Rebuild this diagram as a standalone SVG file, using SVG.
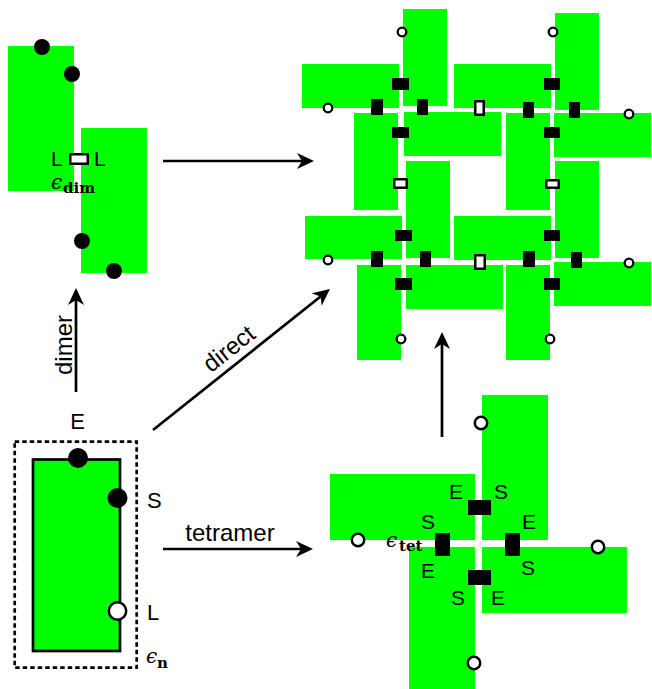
<svg xmlns="http://www.w3.org/2000/svg" width="652" height="689" viewBox="0 0 652 689">
<style>
.g{fill:#00ff00}
.k{fill:#000}
.w{fill:#fff;stroke:#000;stroke-width:2.5}
.oc{fill:#fff;stroke:#000;stroke-width:2.3}
.lab{font-family:"Liberation Sans",Arial,sans-serif;font-size:22px;fill:#000}
.tl{font-family:"Liberation Sans",Arial,sans-serif;font-size:21px;fill:#000}
.arl{font-family:"Liberation Sans",Arial,sans-serif;font-size:24px;fill:#000}
.eps{font-family:"DejaVu Serif",serif;font-style:italic;font-size:20px;fill:#000}
.sub{font-family:"DejaVu Serif",serif;font-weight:bold;font-size:15px;fill:#000}
.arrow{stroke:#000;stroke-width:2.7;fill:none;marker-end:url(#ah)}
</style>
<defs>
<marker id="ah" markerUnits="userSpaceOnUse" viewBox="0 -8 17 16" markerWidth="17" markerHeight="16" refX="5" refY="0" orient="auto">
<path d="M0,-8 L17,0 L0,8 L5,0 Z" fill="#000"/>
</marker>
</defs>
<rect width="652" height="689" fill="#fff"/>

<g id="dimer">
<rect class="g" x="8" y="46" width="66" height="145"/>
<rect class="g" x="81" y="128" width="66" height="145"/>
<circle class="k" cx="42" cy="47" r="8"/>
<circle class="k" cx="72" cy="74" r="8"/>
<circle class="k" cx="82" cy="241" r="8"/>
<circle class="k" cx="114" cy="271" r="8"/>
<rect class="w" x="70.25" y="154.25" width="17.5" height="9.5"/>
<text class="tl" x="51" y="166">L</text>
<text class="tl" x="94" y="166">L</text>
<text class="eps" x="51" y="189">ϵ</text>
<text class="sub" x="63" y="193">dim</text>
</g>

<g id="monomer">
<rect x="14.7" y="441.7" width="122" height="226" fill="none" stroke="#000" stroke-width="2.7" stroke-dasharray="4.5 3"/>
<rect x="33" y="459.5" width="87" height="191.5" fill="#00ff00" stroke="#000" stroke-width="2.7"/>
<circle class="k" cx="78" cy="458" r="10"/>
<circle class="k" cx="117.5" cy="498" r="10"/>
<circle cx="117.5" cy="611" r="8.7" fill="#fff" stroke="#000" stroke-width="2.5"/>
<text class="lab" x="77.5" y="429" text-anchor="middle">E</text>
<text class="lab" x="147" y="508">S</text>
<text class="lab" x="147" y="620">L</text>
<text class="eps" x="146" y="663">ϵ</text>
<text class="sub" x="157" y="668">n</text>
</g>

<g id="lattice">
<g id="pinwheel-tl">
<rect class="g" x="403" y="9" width="44" height="97"/>
<rect class="g" x="302" y="64" width="97" height="44"/>
<rect class="g" x="354" y="113" width="44" height="97"/>
<rect class="g" x="404" y="112" width="97" height="44"/>
<rect class="k" x="392" y="78" width="17" height="12"/>
<rect class="k" x="371" y="99" width="12" height="16"/>
<rect class="k" x="417" y="99" width="11" height="16"/>
<rect class="k" x="392" y="127" width="17" height="11"/>
<circle class="oc" cx="402" cy="32" r="4.3"/>
<circle class="oc" cx="328" cy="108" r="4.3"/>
</g>
<g id="pinwheel-tr">
<rect class="g" x="555" y="13" width="44" height="97"/>
<rect class="g" x="454" y="64" width="97" height="44"/>
<rect class="g" x="554" y="113" width="97" height="44"/>
<rect class="g" x="506" y="113" width="44" height="97"/>
<rect class="k" x="544" y="78" width="16" height="12"/>
<rect class="k" x="523" y="102" width="11" height="16"/>
<rect class="k" x="569" y="102" width="11" height="16"/>
<rect class="k" x="544" y="127" width="16" height="11"/>
<circle class="oc" cx="553" cy="32" r="4.3"/>
<circle class="oc" cx="629" cy="114" r="4.3"/>
</g>
<g id="pinwheel-bl">
<rect class="g" x="406" y="161" width="44" height="97"/>
<rect class="g" x="305" y="216" width="97" height="43"/>
<rect class="g" x="406" y="265" width="97" height="44"/>
<rect class="g" x="357" y="265" width="44" height="95"/>
<rect class="k" x="395" y="230" width="17" height="11"/>
<rect class="k" x="371" y="251" width="12" height="16"/>
<rect class="k" x="420" y="251" width="11" height="16"/>
<rect class="k" x="395" y="278" width="17" height="12"/>
<circle class="oc" cx="328" cy="260" r="4.3"/>
<circle class="oc" cx="401" cy="339" r="4.3"/>
</g>
<g id="pinwheel-br">
<rect class="g" x="555" y="161" width="44" height="97"/>
<rect class="g" x="454" y="216" width="97" height="44"/>
<rect class="g" x="554" y="262" width="97" height="44"/>
<rect class="g" x="506" y="265" width="44" height="95"/>
<rect class="k" x="544" y="230" width="16" height="11"/>
<rect class="k" x="523" y="251" width="12" height="16"/>
<rect class="k" x="571" y="252" width="11" height="16"/>
<rect class="k" x="544" y="278" width="16" height="12"/>
<circle class="oc" cx="629" cy="263" r="4.3"/>
<circle class="oc" cx="550" cy="339" r="4.3"/>
</g>
<g id="lattice-links">
<rect class="w" x="475.25" y="101.25" width="8.5" height="13.5"/>
<rect class="w" x="394.25" y="179.25" width="12.5" height="8.5"/>
<rect class="w" x="546.25" y="180.25" width="12.5" height="7.5"/>
<rect class="w" x="475.25" y="255.25" width="9.5" height="13.5"/>
</g>
</g>

<g id="tetramer">
<rect class="g" x="482" y="395" width="66" height="145"/>
<rect class="g" x="330" y="474" width="145" height="66"/>
<rect class="g" x="409" y="547" width="66" height="142"/>
<rect class="g" x="482" y="547" width="145" height="66"/>
<rect class="k" x="468" y="500" width="23" height="15"/>
<rect class="k" x="468" y="570" width="23" height="15"/>
<rect class="k" x="435" y="533" width="15" height="23"/>
<rect class="k" x="505" y="533" width="15" height="23"/>
<circle cx="481" cy="423" r="6.2" fill="#fff" stroke="#000" stroke-width="2.5"/>
<circle cx="358" cy="540" r="6.2" fill="#fff" stroke="#000" stroke-width="2.5"/>
<circle cx="598" cy="547" r="6.2" fill="#fff" stroke="#000" stroke-width="2.5"/>
<circle cx="474" cy="663" r="6.2" fill="#fff" stroke="#000" stroke-width="2.5"/>
<text class="tl" x="449" y="499">E</text>
<text class="tl" x="494" y="499">S</text>
<text class="tl" x="421" y="529">S</text>
<text class="tl" x="522" y="529">E</text>
<text class="tl" x="421" y="578">E</text>
<text class="tl" x="521" y="575">S</text>
<text class="tl" x="451" y="605">S</text>
<text class="tl" x="491" y="605">E</text>
<text class="eps" x="386" y="547">ϵ</text>
<text class="sub" x="399" y="551">tet</text>
</g>

<g id="connectors">
<line class="arrow" x1="163" y1="161" x2="302" y2="161"/>
<line class="arrow" x1="76" y1="392" x2="76" y2="300"/>
<line class="arrow" x1="153" y1="430" x2="320.6" y2="296.5"/>
<line class="arrow" x1="163" y1="549" x2="301" y2="549"/>
<line class="arrow" x1="442" y1="437" x2="442" y2="344"/>
<text class="arl" text-anchor="middle" transform="translate(72,345) rotate(-90)">dimer</text>
<text class="arl" text-anchor="middle" transform="translate(234,355) rotate(-38.5)">direct</text>
<text class="arl" x="230" y="541" text-anchor="middle">tetramer</text>
</g>
</svg>
